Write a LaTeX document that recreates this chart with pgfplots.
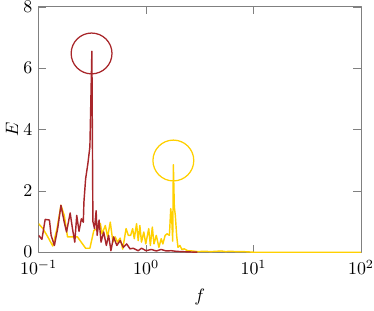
\documentclass[border=0pt]{standalone}
\usepackage{pgfplots}
\pgfplotsset{compat=1.18}
\definecolor{specred}{RGB}{168,38,42}
\definecolor{specyel}{RGB}{255,208,0}
\begin{document}
\begin{tikzpicture}
\begin{axis}[
  scale only axis, width=180pt, height=137pt,
  xmode=log, log basis x=10,
  xmin=0.1, xmax=100, ymin=0, ymax=8,
  xtick={0.1,1,10,100}, ytick={0,2,4,6,8},
  xminorticks=false,
  axis line style={black!50}, tick style={black!50},
  tick align=inside,
  xticklabel style={inner xsep=0pt, yshift=-1pt},
  yticklabel style={inner ysep=0.6pt},
  xlabel={$f$}, ylabel={$E$},
  ylabel style={yshift=-4pt},
  xlabel style={yshift=-1pt},
  line join=round,
]
% yellow series
\addplot[specyel, line width=0.8pt] coordinates {
(0.1,0.93) (0.1096,0.77) (0.1218,0.50) (0.1354,0.20) (0.1483,0.77) (0.1614,1.53)
(0.1732,1.20) (0.1858,0.50) (0.2296,0.50) (0.2737,0.13) (0.3000,0.13) (0.3265,0.71)
(0.3503,0.77) (0.3757,0.93) (0.3892,0.60) (0.4175,0.87) (0.4386,0.50) (0.4642,0.98)
(0.4913,0.33) (0.5159,0.50) (0.5420,0.33) (0.5732,0.46) (0.6064,0.10) (0.6509,0.77)
(0.6839,0.55) (0.7185,0.55) (0.7496,0.77) (0.7764,0.44) (0.8155,0.93) (0.8445,0.38)
(0.8747,0.87) (0.9062,0.33) (0.9520,0.66) (0.9929,0.27) (1.058,0.77) (1.096,0.22)
(1.143,0.82) (1.184,0.27) (1.244,0.55) (1.316,0.16) (1.383,0.44) (1.432,0.27)
(1.505,0.55) (1.569,0.60) (1.649,0.55) (1.696,1.42) (1.732,1.10) (1.769,0.36)
(1.794,2.85) (1.832,1.47) (1.871,1.20) (1.925,0.55) (1.980,0.16) (2.065,0.22)
(2.154,0.09) (2.263,0.11) (2.428,0.05) (2.7,0.04) (3.0,0.02) (3.5,0.03) (4.0,0.02)
(4.5,0.03) (5.0,0.04) (5.5,0.02) (6.0,0.03) (7.0,0.02) (8.0,0.02) (9.0,0.01)
(10,0.0) (100,0.0)
};
% red series
\addplot[specred, line width=0.8pt] coordinates {
(0.1,0.55) (0.1073,0.42) (0.1151,1.07) (0.1261,1.05) (0.1307,0.55) (0.1402,0.22)
(0.1504,0.77) (0.1614,1.53) (0.1732,0.98) (0.1819,0.66) (0.1966,1.28) (0.2065,0.77)
(0.2170,0.33) (0.2263,1.20) (0.2377,0.68) (0.2498,1.09) (0.2605,0.98) (0.2640,1.64)
(0.2737,2.39) (0.2876,2.90) (0.3000,3.44) (0.3130,6.55) (0.3200,1.00) (0.3311,0.77)
(0.3430,1.35) (0.3503,0.55) (0.3654,1.05) (0.3811,0.33) (0.4032,0.66) (0.4266,0.22)
(0.4481,0.55) (0.4708,0.05) (0.4981,0.50) (0.5343,0.22) (0.5732,0.38) (0.6151,0.16)
(0.6600,0.27) (0.7082,0.11) (0.7600,0.13) (0.8445,0.05) (0.9062,0.13) (1.0,0.05)
(1.12,0.09) (1.245,0.04) (1.38,0.09) (1.54,0.04) (1.71,0.05) (1.90,0.03)
(2.11,0.02) (2.52,0.01) (3.0,0.0)
};
\addplot[only marks, mark=o, mark size=11.4pt, specred, mark options={line width=0.7pt}] coordinates {(0.311,6.48)};
\addplot[only marks, mark=o, mark size=11.4pt, specyel, mark options={line width=0.7pt}] coordinates {(1.794,2.99)};
\end{axis}
\end{tikzpicture}
\end{document}
